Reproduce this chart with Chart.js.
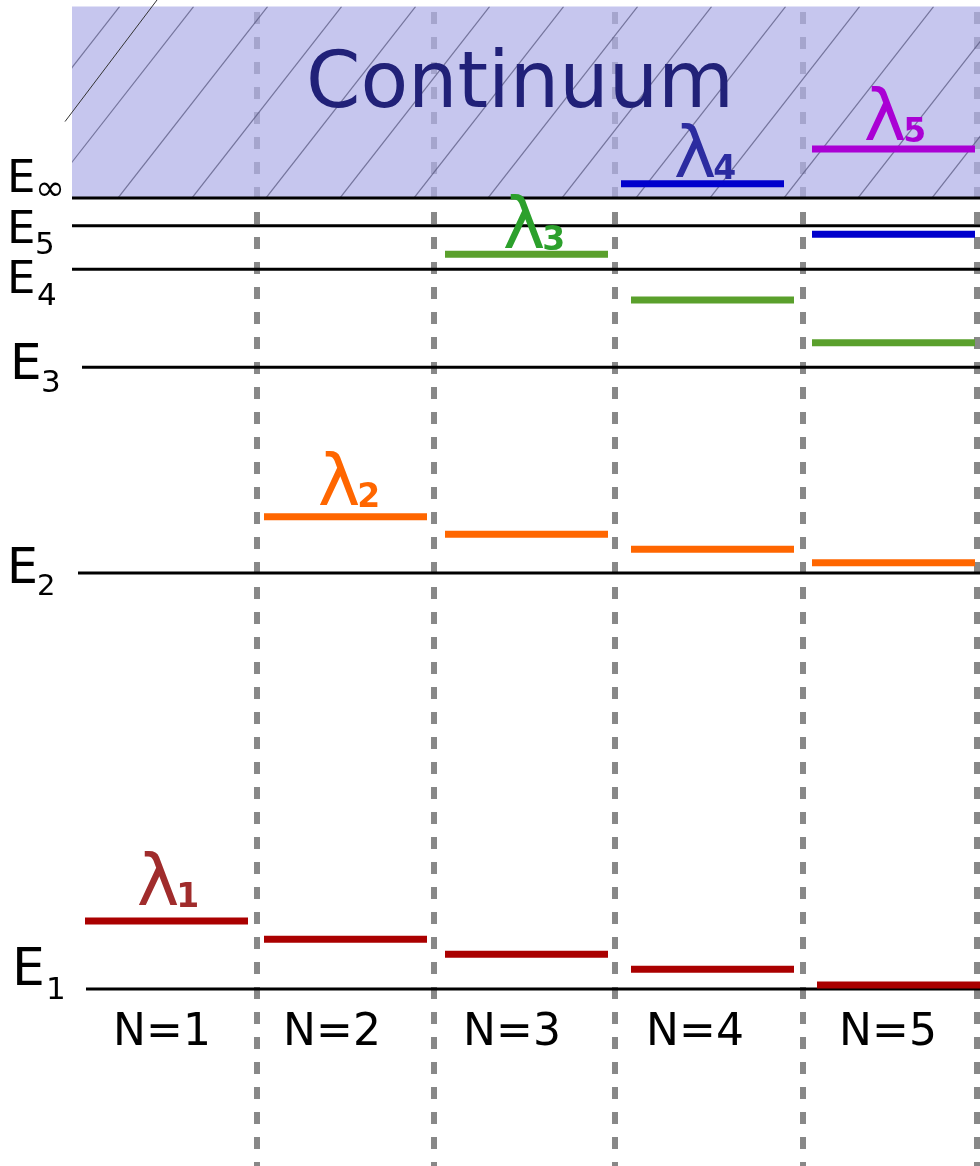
<!DOCTYPE html>
<html><head><meta charset="utf-8">
<script src="https://cdn.jsdelivr.net/npm/chart.js@4/dist/chart.umd.min.js"></script>
<style>html,body{margin:0;padding:0;background:#fff}#wrap{width:980px;height:1166px;position:relative}</style>
</head><body><div id="wrap"><canvas id="c"></canvas></div>
<script>
// ---------------- data (energies in arbitrary units, E1 = 0, E∞ = 100) ----------------
const categories = ['N=1', 'N=2', 'N=3', 'N=4', 'N=5'];
const seriesSubs = ['1', '2', '3', '4', '5'];           // λ subscripts
const lambda1 = [8.6, 6.3, 4.4, 2.5, 0.5];
const lambda2 = [null, 59.7, 57.5, 55.6, 53.9];
const lambda3 = [null, null, 92.9, 87.1, 81.7];
const lambda4 = [null, null, null, 101.8, 95.4];
const lambda5 = [null, null, null, null, 106.2];
const levelSubs = ['∞', '5', '4', '3', '2', '1'];
const levelEnergies = [100, 96.5, 91.0, 78.6, 52.6, 0];
const continuumTop = 124.2;
const continuumLabel = 'Continuum';

// ---------------- layout / style (not data) ----------------
const X_MIN = 0, X_MAX = 980, Y_MIN = -22.38, Y_MAX = 125.03;
const separatorsX = [257, 434, 615, 803, 977];
const sepTop = 123.5;
const colBars = [[85, 248], [264, 427], [445, 608], [631, 794], [812, 975]];
const barShift = {'0-4': 5, '3-3': -10};      // series-column fine shifts
const levelStartX = [72, 72, 72, 82, 78, 86];
const levelEndX = 980;
const contLeft = 72, contRight = 980;
const nLabelX = [162, 332, 512, 695, 888];
const nLabelY = -7.1;
const barColors = ['#aa0000', '#ff6600', '#5aa02c', '#0000cc', '#aa00d4'];
const lamColors = ['#a02c2c', '#ff6600', '#2ca02c', '#2c2ca0', '#aa00d4'];
const lamDx = [3, 5, 9, 4, 3];
const lamDy = [-16, -12, -6, -7, -9];
// E label: [E left px, E baseline offset from line, E size, sub left px, sub baseline offset, sub size]
const eLab = [
  [10, -6, 45, 36, 2, 36],
  [10, 17, 45, 36, 28, 31],
  [10, 24, 45, 38, 36, 31],
  [13, 12, 50, 42, 25, 31],
  [10, 10, 49, 38, 22, 29],
  [15, -4, 52, 47, 10, 31]
];
const FONT = '"DejaVu Sans", sans-serif';

const series = [lambda1, lambda2, lambda3, lambda4, lambda5];
const datasets = [];

// separators (dashed)
separatorsX.forEach(x => datasets.push({
  label: 'sep', data: [{x, y: sepTop}, {x, y: Y_MIN}],
  borderColor: '#888888', borderWidth: 6, borderDash: [12, 13],
  pointRadius: 0, order: 10, fill: false
}));
// continuum band
const contBottomIdx = datasets.length;
datasets.push({label: 'contBottom', data: [{x: contLeft, y: levelEnergies[0]}, {x: contRight, y: levelEnergies[0]}],
  borderWidth: 0, pointRadius: 0, order: 6, fill: false});
const contTopIdx = datasets.length;
datasets.push({label: 'continuum', data: [{x: contLeft, y: continuumTop}, {x: contRight, y: continuumTop}],
  borderWidth: 0, pointRadius: 0, order: 5, fill: '-1', backgroundColor: 'rgba(176,176,232,0.72)'});
// reference levels
levelEnergies.forEach((e, i) => datasets.push({
  label: 'E' + levelSubs[i], data: [{x: levelStartX[i], y: e}, {x: levelEndX, y: e}],
  borderColor: '#000', borderWidth: 3, pointRadius: 0, order: 2, fill: false
}));
// λ levels per N
series.forEach((vals, s) => vals.forEach((v, c) => {
  if (v === null) return;
  const sh = barShift[s + '-' + c] || 0;
  datasets.push({
    label: 'λ' + seriesSubs[s] + ' ' + categories[c],
    data: [{x: colBars[c][0] + sh, y: v}, {x: colBars[c][1] + sh, y: v}],
    borderColor: barColors[s], borderWidth: 7, pointRadius: 0, order: 1, fill: false
  });
}));

const hatchPlugin = {
  id: 'hatch',
  afterDatasetDraw(chart, args) {
    if (args.index !== contTopIdx) return;
    const {ctx, scales: {x, y}} = chart;
    const L = x.getPixelForValue(contLeft), R = x.getPixelForValue(contRight);
    const T = y.getPixelForValue(continuumTop), B = y.getPixelForValue(levelEnergies[0]);
    const h = B - T, slope = 1.28, dxs = h / slope;
    ctx.save();
    ctx.beginPath(); ctx.rect(L, T, R - L, h); ctx.clip();
    ctx.strokeStyle = 'rgba(90,90,130,0.75)'; ctx.lineWidth = 1.2;
    for (let bx = 118 - 74 * 3; bx < R + 10; bx += 74) {
      ctx.beginPath(); ctx.moveTo(bx, B); ctx.lineTo(bx + dxs, T); ctx.stroke();
    }
    ctx.restore();
    // stray stroke sticking out at the top-left
    ctx.save();
    ctx.strokeStyle = '#333'; ctx.lineWidth = 1;
    ctx.beginPath(); ctx.moveTo(L - 7, T + 115); ctx.lineTo(L + 85, 0); ctx.stroke();
    ctx.restore();
    // label
    ctx.save();
    ctx.font = '78px ' + FONT; ctx.fillStyle = '#212178';
    ctx.textAlign = 'center'; ctx.textBaseline = 'alphabetic';
    ctx.fillText(continuumLabel, x.getPixelForValue(520), y.getPixelForValue(111.5));
    ctx.restore();
  }
};

const labelPlugin = {
  id: 'labels',
  afterDatasetsDraw(chart) {
    const {ctx, scales: {x, y}} = chart;
    ctx.save();
    ctx.textBaseline = 'alphabetic'; ctx.textAlign = 'left';
    // λ labels on the top bar of each series
    series.forEach((vals, s) => {
      const c = s;
      const sh = barShift[s + '-' + c] || 0;
      const cx = x.getPixelForValue((colBars[c][0] + colBars[c][1]) / 2 + sh) + lamDx[s];
      const by = y.getPixelForValue(vals[c]) + lamDy[s];
      ctx.font = '72px ' + FONT; const wl = ctx.measureText('λ').width;
      ctx.font = 'bold 33px ' + FONT; const ws = ctx.measureText(seriesSubs[s]).width;
      const left = cx - (wl + ws) / 2;
      ctx.fillStyle = lamColors[s];
      ctx.font = '72px ' + FONT; ctx.fillText('λ', left, by);
      ctx.font = 'bold 33px ' + FONT; ctx.fillText(seriesSubs[s], left + wl - 3, by + 2);
    });
    // E labels
    ctx.fillStyle = '#000';
    levelEnergies.forEach((e, i) => {
      const py = y.getPixelForValue(e); const p = eLab[i];
      ctx.font = p[2] + 'px ' + FONT; ctx.fillText('E', p[0] - 3, py + p[1]);
      ctx.font = p[5] + 'px ' + FONT; ctx.fillText(levelSubs[i], p[3] - 1, py + p[4]);
    });
    // N labels
    ctx.font = '44px ' + FONT; ctx.textAlign = 'center';
    categories.forEach((c, i) => ctx.fillText(c, x.getPixelForValue(nLabelX[i]), y.getPixelForValue(nLabelY)));
    ctx.restore();
  }
};

new Chart(document.getElementById('c'), {
  type: 'line',
  data: {datasets},
  options: {
    responsive: true, maintainAspectRatio: false, animation: false,
    layout: {padding: 0},
    plugins: {legend: {display: false}, tooltip: {enabled: false}},
    scales: {
      x: {type: 'linear', min: X_MIN, max: X_MAX, display: false},
      y: {type: 'linear', min: Y_MIN, max: Y_MAX, display: false}
    },
    elements: {line: {tension: 0, borderCapStyle: 'butt'}}
  },
  plugins: [hatchPlugin, labelPlugin]
});
</script></body></html>
